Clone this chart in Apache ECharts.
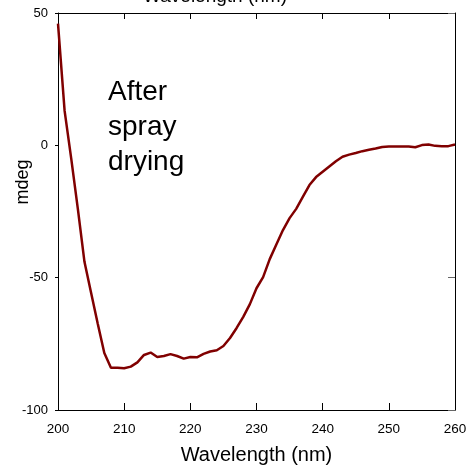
<!DOCTYPE html>
<html>
<head>
<meta charset="utf-8">
<script src="https://cdn.jsdelivr.net/npm/echarts@6/dist/echarts.min.js"></script>
<style>html,body{margin:0;padding:0;background:#fff}#c{width:471px;height:467px}</style>
</head>
<body>
<div id="c"></div>
<script>
const wavelengths = [200,201,202,203,204,205,206,207,208,209,210,211,212,213,214,215,216,217,218,219,220,221,222,223,224,225,226,227,228,229,230,231,232,233,234,235,236,237,238,239,240,241,242,243,244,245,246,247,248,249,250,251,252,253,254,255,256,257,258,259,260];
const mdegValues = [46,13,-5,-24,-44,-55.7,-67.3,-78.5,-84,-84,-84.2,-83.6,-82,-79.2,-78.3,-80,-79.6,-78.9,-79.6,-80.6,-80,-80.1,-78.8,-77.9,-77.4,-75.8,-72.8,-69,-64.8,-60,-54,-49.8,-43,-37.5,-32,-27.5,-24,-19.5,-15,-12,-10,-8,-6,-4.3,-3.5,-2.9,-2.2,-1.7,-1.2,-0.6,-0.4,-0.4,-0.4,-0.4,-0.7,0.1,0.3,-0.2,-0.3,-0.3,0.3];
const xTicks = [200,210,220,230,240,250,260];
const yTicks = [-100,-50,0,50];

const chart = echarts.init(document.getElementById('c'), null, {renderer:'canvas'});
const font = 'Liberation Sans, Arial, sans-serif';
chart.setOption({
  animation:false,
  backgroundColor:'#fff',
  grid:{left:58,right:16,top:13,bottom:57,containLabel:false,outerBoundsMode:'none'},
  xAxis:[{
    type:'value',min:xTicks[0],max:xTicks[xTicks.length-1],interval:10,position:'bottom',
    axisLine:{onZero:false,lineStyle:{color:'#000',width:1}},
    axisTick:{inside:true,length:7,lineStyle:{color:'#000'}},
    axisLabel:{color:'#000',fontSize:13.5,fontFamily:font,margin:12},
    splitLine:{show:false},
    name:'Wavelength (nm)',nameLocation:'middle',nameGap:35,
    nameTextStyle:{color:'#000',fontSize:20,fontFamily:font}
  },{
    type:'value',min:xTicks[0],max:xTicks[xTicks.length-1],interval:10,position:'top',
    axisLine:{onZero:false,lineStyle:{color:'#000',width:1}},
    axisTick:{inside:true,length:6,lineStyle:{color:'#000'}},
    axisLabel:{show:false},splitLine:{show:false}
  }],
  yAxis:[{
    type:'value',min:yTicks[0],max:yTicks[yTicks.length-1],interval:50,position:'left',
    axisLine:{onZero:false,lineStyle:{color:'#000',width:1}},
    axisTick:{inside:false,length:3,lineStyle:{color:'#000'}},
    axisLabel:{color:'#000',fontSize:13,fontFamily:font,margin:10},
    splitLine:{show:false}
  },{
    type:'value',min:yTicks[0],max:yTicks[yTicks.length-1],interval:50,position:'right',
    axisLine:{onZero:false,lineStyle:{color:'#000',width:1}},
    axisTick:{inside:true,length:7,lineStyle:{color:'#666'}},
    axisLabel:{show:false},splitLine:{show:false}
  }],
  series:[{
    type:'line',
    data:wavelengths.map((w,i)=>[w,mdegValues[i]]),
    showSymbol:false,
    lineStyle:{color:'#800000',width:2.5},
    itemStyle:{color:'#800000'}
  }],
  graphic:[
    {type:'text',left:108,top:75,style:{text:'After\nspray\ndrying',font:'28px '+font,fill:'#000',lineHeight:35}},
    {type:'text',x:23,y:182,rotation:Math.PI/2,style:{text:'mdeg',font:'18px '+font,fill:'#000',align:'center',verticalAlign:'middle'}},
    {type:'text',x:215,y:6,style:{text:'Wavelength (nm)',font:'19px '+font,fill:'#000',align:'center',verticalAlign:'bottom'}}
  ]
});
</script>
</body>
</html>
